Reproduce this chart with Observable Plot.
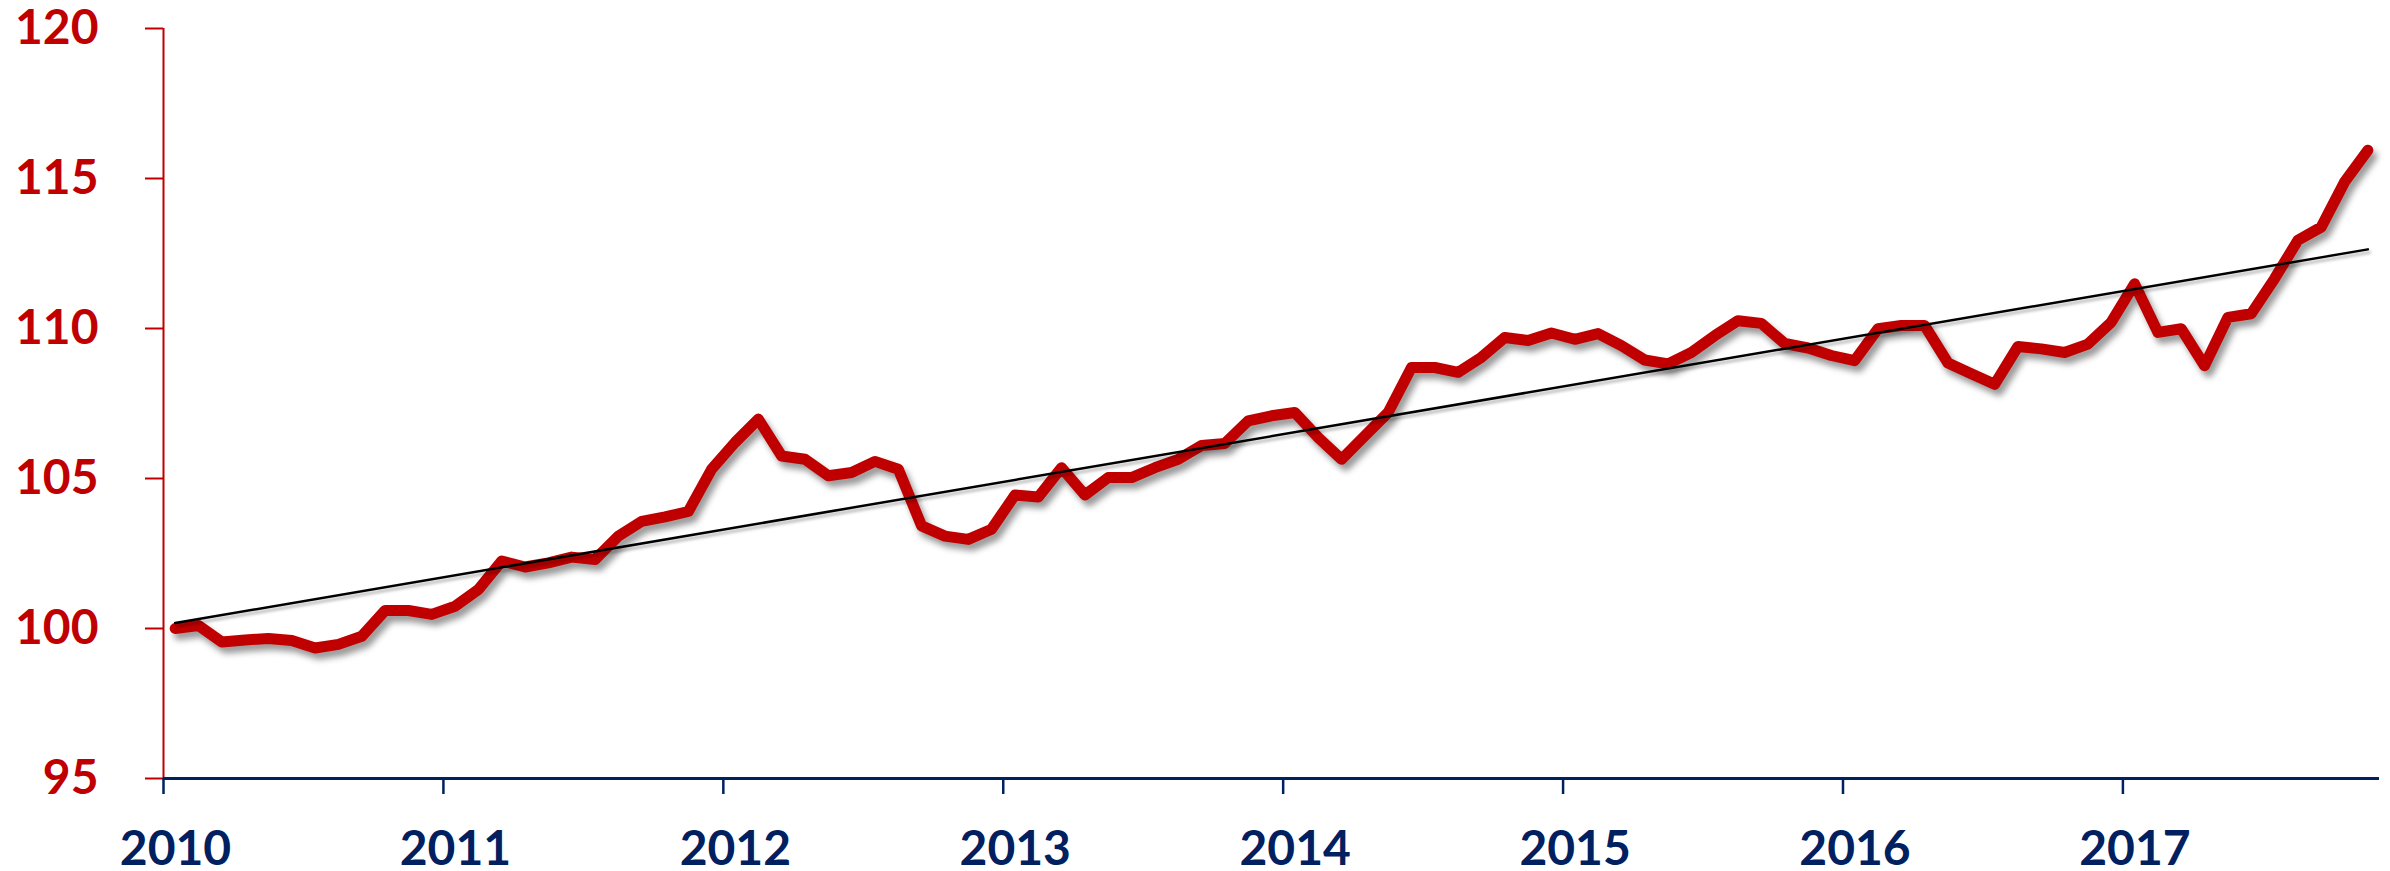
<!DOCTYPE html>
<html>
<head>
<meta charset="utf-8">
<script src="https://cdn.jsdelivr.net/npm/d3@7"></script>
<script src="https://cdn.jsdelivr.net/npm/@observablehq/plot@0.6"></script>
<style>
  html, body { margin: 0; padding: 0; background: #fff; }
  #chart svg { display: block; }
</style>
</head>
<body>
<div id="chart"></div>
<script>
// Monthly index, Jan 2010 – Nov 2017 (one value per month)
const startYear = 2010;
const values = [
  100.0, 100.1, 99.55, 99.62, 99.67, 99.6, 99.35, 99.47, 99.74, 100.6, 100.6, 100.47,
  100.74, 101.3, 102.25, 102.05, 102.19, 102.38, 102.3, 103.08, 103.57, 103.72, 103.9, 105.31,
  106.2, 106.98, 105.75, 105.64, 105.09, 105.2, 105.57, 105.31, 103.42, 103.08, 102.97, 103.31,
  104.45, 104.38, 105.36, 104.45, 105.03, 105.03, 105.36, 105.64, 106.1, 106.17, 106.92, 107.09,
  107.2, 106.37, 105.64, 106.42, 107.2, 108.7, 108.7, 108.54, 109.04, 109.7, 109.6, 109.85,
  109.64, 109.83, 109.43, 108.95, 108.82, 109.2, 109.76, 110.26, 110.17, 109.5, 109.35, 109.1,
  108.93, 109.99, 110.1, 110.1, 108.85, 108.49, 108.14, 109.4, 109.32, 109.2, 109.48, 110.21,
  111.49, 109.87, 109.99, 108.76, 110.37, 110.49, 111.66, 112.94, 113.38, 114.88, 115.94
];
const yearTicks = [2010, 2011, 2012, 2013, 2014, 2015, 2016, 2017];
const valueTicks = [95, 100, 105, 110, 115, 120];

const red = "#C00000";
const navy = "#002060";
const font = "Lato, 'Open Sans', sans-serif";

// each month occupies one slot; the point sits in the middle of its slot
const data = values.map((v, i) => ({t: startYear + (i + 0.5) / 12, v}));

const chart = Plot.plot({
  width: 2390,
  height: 871,
  marginLeft: 163,
  marginRight: 11,
  marginTop: 28,
  marginBottom: 93,
  style: {background: "#fff", overflow: "visible"},
  x: {domain: [startYear, startYear + values.length / 12], label: null},
  y: {domain: [95, 120], label: null},
  marks: [
    Plot.axisY(valueTicks, {
      label: null, tickSize: 18, tickPadding: 47, color: red, strokeWidth: 2,
      fontSize: 48, fontWeight: "bold", fontFamily: font
    }),
    Plot.axisX(yearTicks, {
      label: null, tickSize: 16, tickFormat: () => "", color: navy, strokeWidth: 2.5
    }),
    Plot.axisX(yearTicks, {
      label: null, tickSize: 0, tickPadding: 52, dx: 12, color: navy,
      tickFormat: d => String(d),
      fontSize: 48, fontWeight: "bold", fontFamily: font
    }),
    Plot.ruleX([startYear], {y1: 95, y2: 120, stroke: red, strokeWidth: 2}),
    Plot.ruleY([95], {stroke: navy, strokeWidth: 3}),
    Plot.lineY(data, {
      x: "t", y: "v", stroke: red, strokeWidth: 11,
      strokeLinejoin: "round", strokeLinecap: "round"
    }),
    Plot.linearRegressionY(data, {x: "t", y: "v", ci: 0, stroke: "#000", strokeWidth: 2.5})
  ]
});

chart.querySelectorAll('g[aria-label="line"] path').forEach(p => {
  p.style.filter = "drop-shadow(4px 6px 3px rgba(0,0,0,0.4))";
});
chart.querySelectorAll('g[aria-label="linear-regression"] path').forEach(p => {
  p.style.filter = "drop-shadow(2px 3px 1.5px rgba(0,0,0,0.3))";
});

document.getElementById("chart").appendChild(chart);
</script>
</body>
</html>
